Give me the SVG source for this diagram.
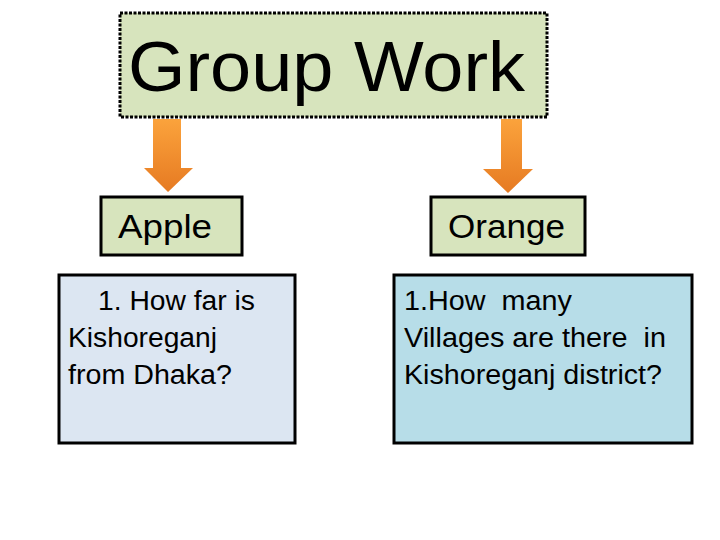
<svg xmlns="http://www.w3.org/2000/svg" width="720" height="540" viewBox="0 0 720 540">
<style>
  text { font-family: "Liberation Sans", Arial, sans-serif; fill: #000; }
  .title { font-size: 71px; }
  .label { font-size: 34px; }
  .body { font-size: 27px; }
  .green { fill: #d7e4bd; stroke: #000; stroke-width: 3; }
  .blueL { fill: #dce6f2; stroke: #000; stroke-width: 3; }
  .blueR { fill: #b7dde8; stroke: #000; stroke-width: 3; }
  .arrow { fill: url(#og); }
</style>
<defs>
  <linearGradient id="og" x1="0" y1="0" x2="0" y2="1">
    <stop offset="0" stop-color="#fba33c"/>
    <stop offset="1" stop-color="#e67a22"/>
  </linearGradient>
</defs>
<rect width="720" height="540" fill="#fff"/>

<g id="title">
  <rect x="120" y="13" width="427" height="104" fill="#d7e4bd" stroke="#000" stroke-width="3" stroke-dasharray="3 1.5"/>
  <text class="title" x="128" y="91" textLength="397" lengthAdjust="spacingAndGlyphs">Group Work</text>
</g>

<g id="connectors">
  <polygon class="arrow" points="153,119 181,119 181,168 193,168 168,192 144,168 153,168"/>
  <polygon class="arrow" points="501,119 522,119 522,169 533,169 508,193 483,169 501,169"/>
</g>

<g id="apple">
  <rect class="green" x="101" y="197" width="141" height="58"/>
  <text class="label" x="118" y="238" textLength="94" lengthAdjust="spacingAndGlyphs">Apple</text>
</g>

<g id="orange">
  <rect class="green" x="431" y="197" width="154" height="58"/>
  <text class="label" x="448" y="238" textLength="117" lengthAdjust="spacingAndGlyphs">Orange</text>
</g>

<g id="question-apple">
  <rect class="blueL" x="59" y="275" width="236" height="168"/>
  <text class="body" x="98" y="310" textLength="157" lengthAdjust="spacingAndGlyphs">1. How far is</text>
  <text class="body" x="68" y="347" textLength="149" lengthAdjust="spacingAndGlyphs">Kishoreganj</text>
  <text class="body" x="68" y="384" textLength="164" lengthAdjust="spacingAndGlyphs">from Dhaka?</text>
</g>

<g id="question-orange">
  <rect class="blueR" x="394" y="275" width="298" height="168"/>
  <text class="body" x="404" y="310" textLength="168" lengthAdjust="spacingAndGlyphs" xml:space="preserve">1.How  many</text>
  <text class="body" x="404" y="347" textLength="262" lengthAdjust="spacingAndGlyphs" xml:space="preserve">Villages are there  in</text>
  <text class="body" x="404" y="384" textLength="258" lengthAdjust="spacingAndGlyphs">Kishoreganj district?</text>
</g>
</svg>
